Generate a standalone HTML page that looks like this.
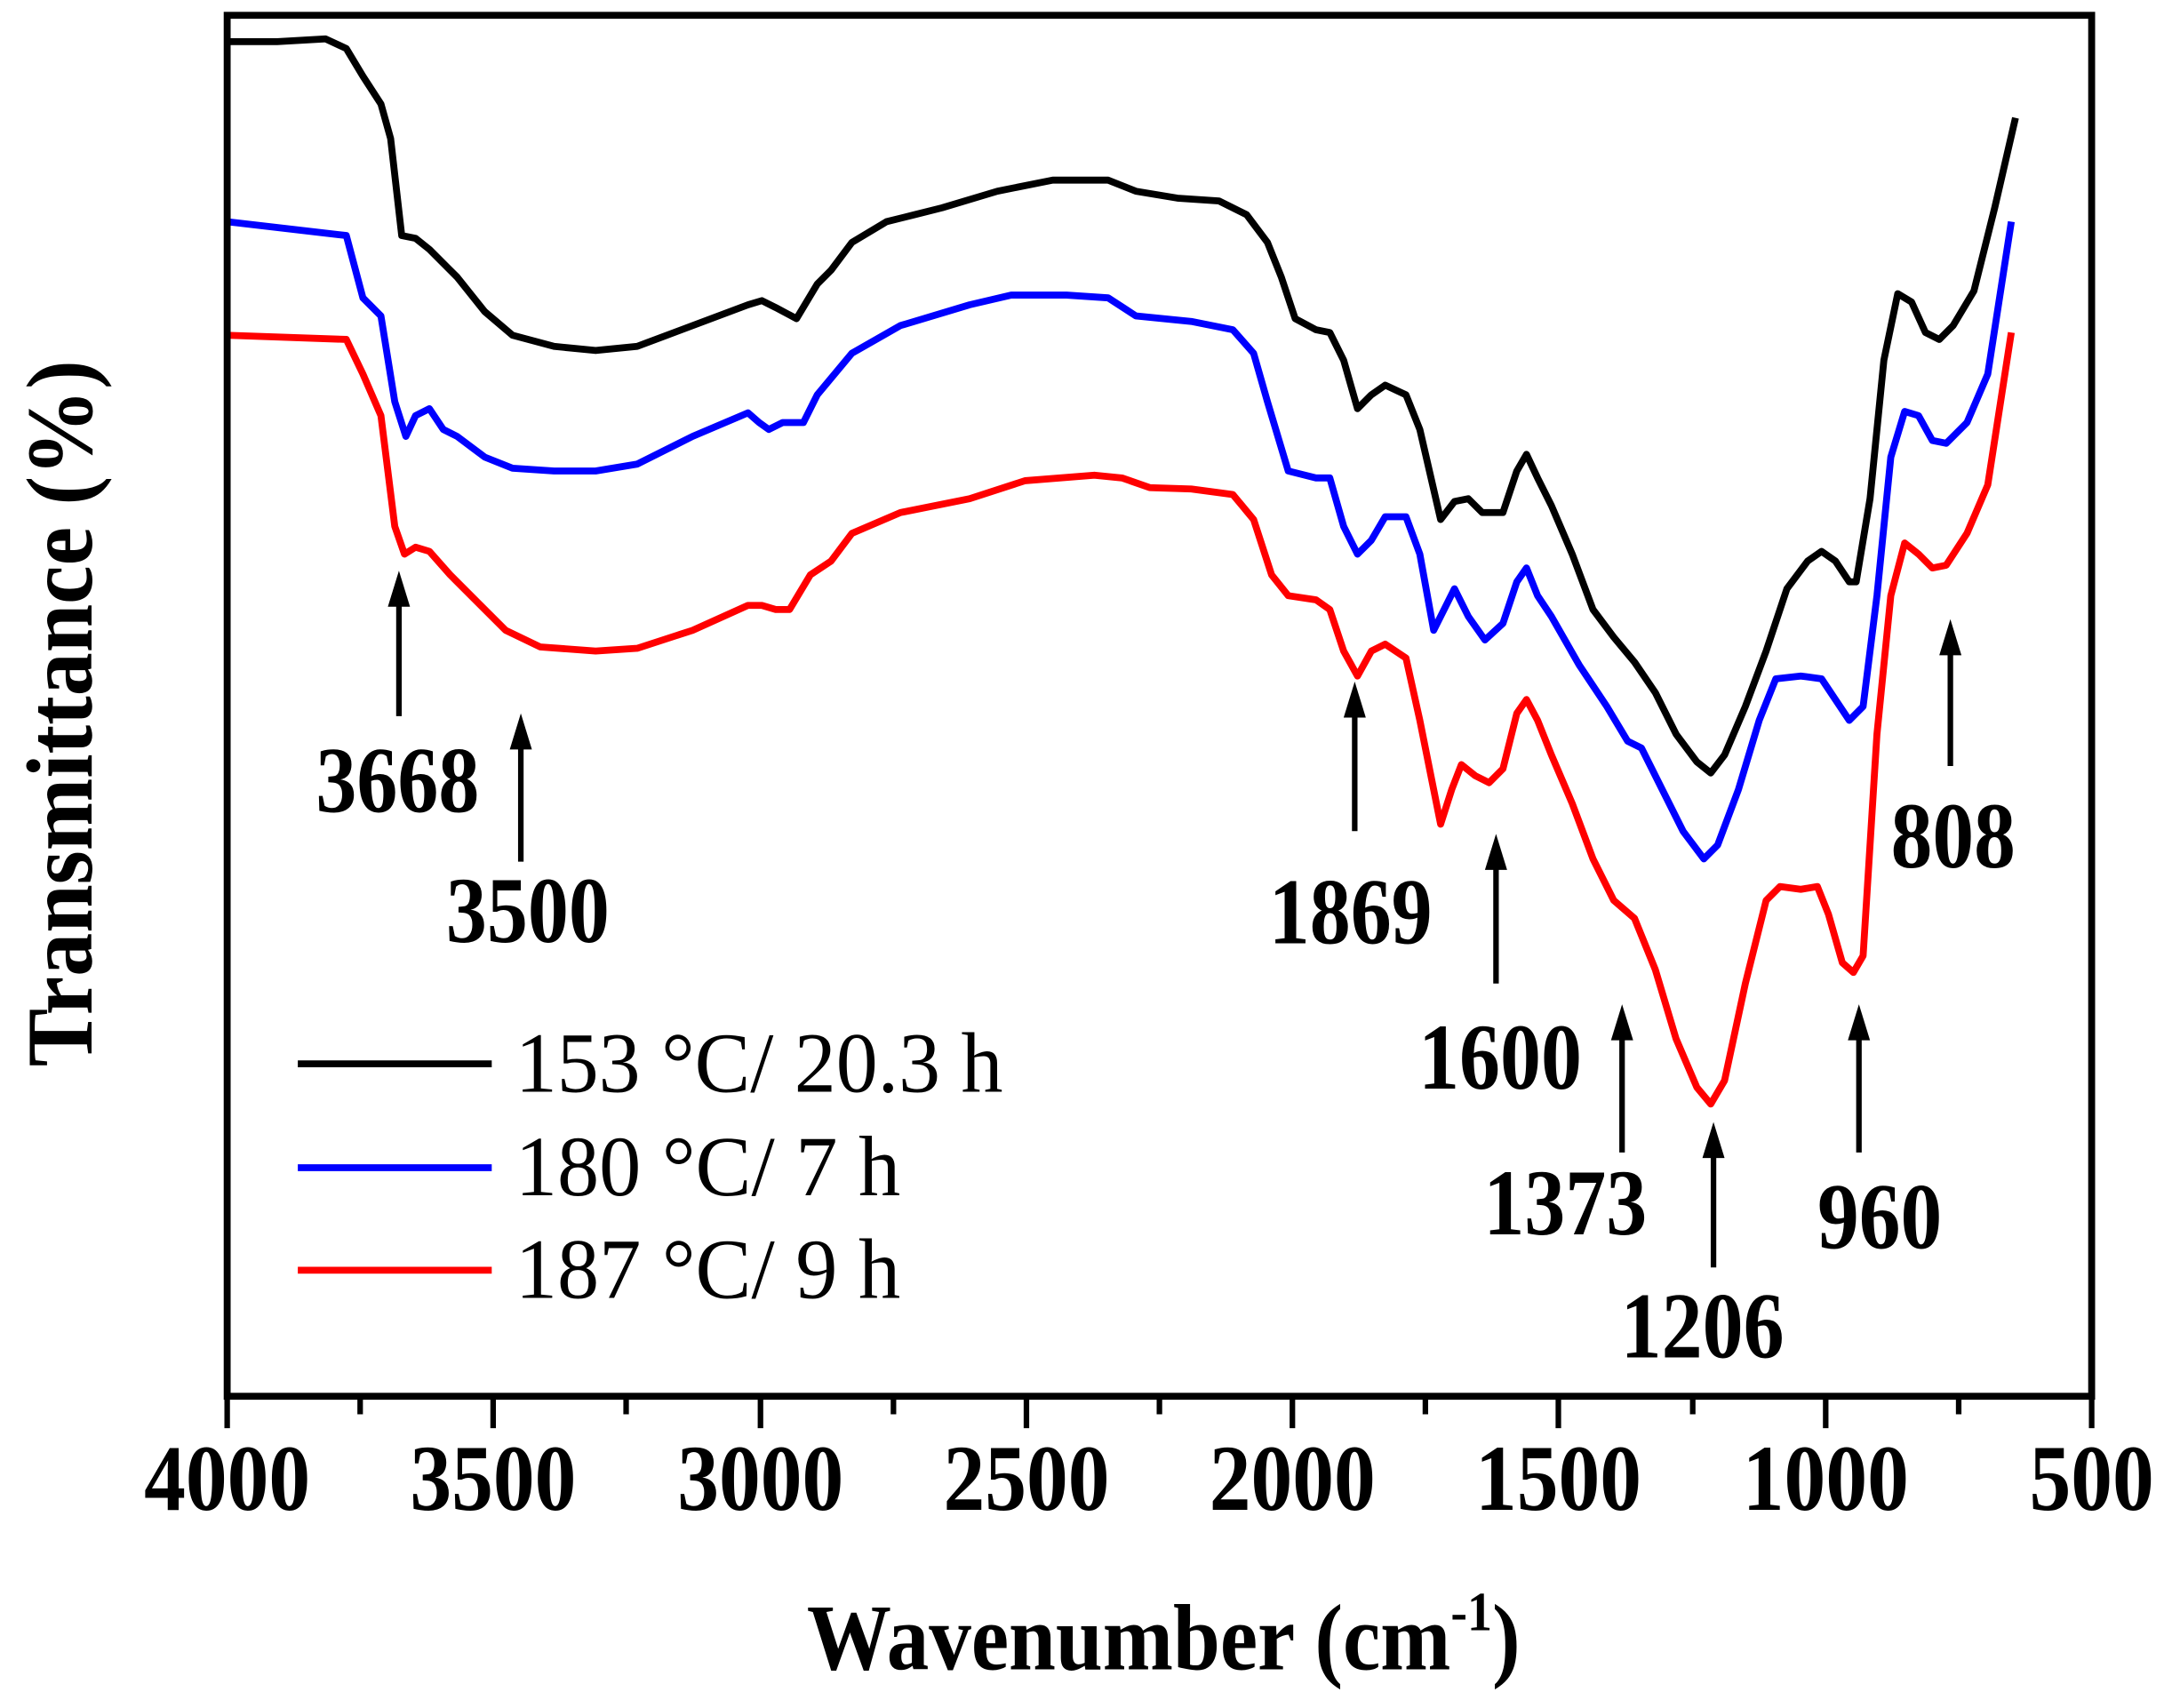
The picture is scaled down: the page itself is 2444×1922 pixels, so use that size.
<!DOCTYPE html>
<html><head><meta charset="utf-8"><style>
html,body{margin:0;padding:0;background:#fff}
svg{display:block}
text{font-family:"Liberation Serif",serif}
</style></head><body>
<svg width="2444" height="1922" viewBox="0 0 1568 1233" xmlns="http://www.w3.org/2000/svg">
<g fill="none" stroke-width="5" stroke-linejoin="round">
<polyline stroke="#000" points="164,30 200,30 235,28 250,35 262,55 275,75 282,100 290,170 300,172 310,180 330,200 350,225 370,242 400,250 430,253 460,250 500,235 540,220 550,217 560,222 575,230 590,205 600,195 615,175 640,160 660,155 680,150 720,138 760,130 790,130 800,130 820,138 850,143 880,145 900,155 915,175 925,200 935,230 950,238 960,240 970,260 980,295 990,285 1000,278 1015,285 1025,310 1040,375 1050,362 1060,360 1070,370 1085,370 1095,340 1102,328 1110,345 1120,365 1135,400 1150,440 1165,460 1180,478 1195,500 1210,530 1225,550 1235,558 1245,545 1260,510 1275,470 1290,425 1305,405 1315,398 1325,405 1335,420 1340,420 1350,360 1360,260 1370,212 1380,218 1390,240 1400,245 1410,235 1425,210 1440,150 1455,85"/>
<polyline stroke="#00f" points="164,160 250,170 262,215 275,228 285,290 293,315 300,300 310,295 320,310 330,315 350,330 370,338 400,340 430,340 460,335 500,315 540,298 548,305 555,310 565,305 580,305 590,285 615,255 650,235 700,220 730,213 770,213 800,215 820,228 860,232 890,238 905,255 915,290 930,340 950,345 960,345 970,380 980,400 990,390 1000,373 1015,373 1025,400 1035,455 1045,435 1050,425 1060,445 1072,462 1085,450 1095,420 1102,410 1110,430 1120,445 1140,480 1160,510 1175,535 1185,540 1200,570 1215,600 1230,620 1240,610 1255,570 1270,520 1282,490 1300,488 1315,490 1325,505 1335,520 1345,510 1355,430 1365,330 1375,297 1385,300 1395,318 1405,320 1420,305 1435,270 1452,160"/>
<polyline stroke="#f00" points="164,242 250,245 262,270 275,300 285,380 292,400 300,395 310,398 325,415 345,435 365,455 390,467 430,470 460,468 500,455 540,437 550,437 560,440 570,440 585,415 600,405 615,385 650,370 700,360 740,347 790,343 810,345 830,352 860,353 890,357 905,375 918,415 930,430 950,433 960,440 970,470 980,488 990,470 1000,465 1015,475 1025,520 1040,595 1048,570 1055,552 1065,560 1075,565 1085,555 1095,515 1102,505 1110,520 1120,545 1135,580 1150,620 1165,650 1180,663 1195,700 1210,750 1225,785 1235,797 1245,780 1260,710 1275,650 1285,640 1300,642 1312,640 1320,660 1330,695 1338,702 1345,690 1355,530 1365,430 1375,392 1385,400 1395,410 1405,408 1420,385 1435,350 1452,240"/>
</g>
<rect x="164" y="11" width="1346" height="997" fill="none" stroke="#000" stroke-width="5"/>
<g stroke="#000" stroke-width="4">
<line x1="164" y1="1008" x2="164" y2="1031"/>
<line x1="549" y1="1008" x2="549" y2="1031"/>
<line x1="933" y1="1008" x2="933" y2="1031"/>
<line x1="1318" y1="1008" x2="1318" y2="1031"/><line x1="1510" y1="1008" x2="1510" y2="1031"/>
<line x1="356" y1="1008" x2="356" y2="1031"/>
<line x1="741" y1="1008" x2="741" y2="1031"/>
<line x1="1125" y1="1008" x2="1125" y2="1031"/>
<line x1="1414" y1="1008" x2="1414" y2="1021"/>
<line x1="260" y1="1008" x2="260" y2="1021"/><line x1="452" y1="1008" x2="452" y2="1021"/>
<line x1="645" y1="1008" x2="645" y2="1021"/><line x1="837" y1="1008" x2="837" y2="1021"/>
<line x1="1029" y1="1008" x2="1029" y2="1021"/><line x1="1222" y1="1008" x2="1222" y2="1021"/>
</g>
<g font-weight="bold" font-size="68" text-anchor="middle">
<text x="164" y="1090" textLength="120" lengthAdjust="spacingAndGlyphs">4000</text>
<text x="356" y="1090" textLength="120" lengthAdjust="spacingAndGlyphs">3500</text>
<text x="549" y="1090" textLength="120" lengthAdjust="spacingAndGlyphs">3000</text>
<text x="741" y="1090" textLength="120" lengthAdjust="spacingAndGlyphs">2500</text>
<text x="933" y="1090" textLength="120" lengthAdjust="spacingAndGlyphs">2000</text>
<text x="1125" y="1090" textLength="120" lengthAdjust="spacingAndGlyphs">1500</text>
<text x="1318" y="1090" textLength="120" lengthAdjust="spacingAndGlyphs">1000</text>
<text x="1510" y="1090" textLength="90" lengthAdjust="spacingAndGlyphs">500</text>
</g>
<text x="840" y="1205" font-weight="bold" font-size="68" text-anchor="middle" textLength="515" lengthAdjust="spacingAndGlyphs">Wavenumber (cm<tspan dy="-28" font-size="40">-1</tspan><tspan dy="28">)</tspan></text>
<text transform="translate(66,515) rotate(-90)" font-weight="bold" font-size="68" text-anchor="middle" textLength="510" lengthAdjust="spacingAndGlyphs">Transmittance (%)</text>
<g stroke="#000" stroke-width="5">
<line x1="215" y1="768" x2="355" y2="768"/>
<line x1="215" y1="843" x2="355" y2="843" stroke="#00f"/>
<line x1="215" y1="917" x2="355" y2="917" stroke="#f00"/>
</g>
<g font-size="62">
<text x="372" y="788" textLength="352" lengthAdjust="spacingAndGlyphs">153 °C/ 20.3 h</text>
<text x="372" y="863" textLength="278" lengthAdjust="spacingAndGlyphs">180 °C/ 7 h</text>
<text x="372" y="937" textLength="278" lengthAdjust="spacingAndGlyphs">187 °C/ 9 h</text>
</g>
<g stroke="#000" stroke-width="4">
<line x1="288" y1="517" x2="288" y2="430"/>
<line x1="376" y1="622" x2="376" y2="533"/>
<line x1="978" y1="600" x2="978" y2="510"/>
<line x1="1080" y1="710" x2="1080" y2="620"/>
<line x1="1171" y1="832" x2="1171" y2="743"/>
<line x1="1237" y1="915" x2="1237" y2="828"/>
<line x1="1342" y1="832" x2="1342" y2="743"/>
<line x1="1408" y1="553" x2="1408" y2="465"/>
</g>
<g fill="#000">
<polygon points="288,412 280,438 296,438"/>
<polygon points="376,515 368,541 384,541"/>
<polygon points="978,492 970,518 986,518"/>
<polygon points="1080,602 1072,628 1088,628"/>
<polygon points="1171,725 1163,751 1179,751"/>
<polygon points="1237,810 1229,836 1245,836"/>
<polygon points="1342,725 1334,751 1350,751"/>
<polygon points="1408,447 1400,473 1416,473"/>
</g>
<g font-weight="bold" font-size="68" text-anchor="middle">
<text x="287" y="586" textLength="118" lengthAdjust="spacingAndGlyphs">3668</text>
<text x="381" y="680" textLength="118" lengthAdjust="spacingAndGlyphs">3500</text>
<text x="975" y="681" textLength="118" lengthAdjust="spacingAndGlyphs">1869</text>
<text x="1083" y="786" textLength="118" lengthAdjust="spacingAndGlyphs">1600</text>
<text x="1130" y="891" textLength="118" lengthAdjust="spacingAndGlyphs">1373</text>
<text x="1229" y="980" textLength="118" lengthAdjust="spacingAndGlyphs">1206</text>
<text x="1357" y="901" textLength="90" lengthAdjust="spacingAndGlyphs">960</text>
<text x="1410" y="626" textLength="90" lengthAdjust="spacingAndGlyphs">808</text>
</g>
</svg>
</body></html>
